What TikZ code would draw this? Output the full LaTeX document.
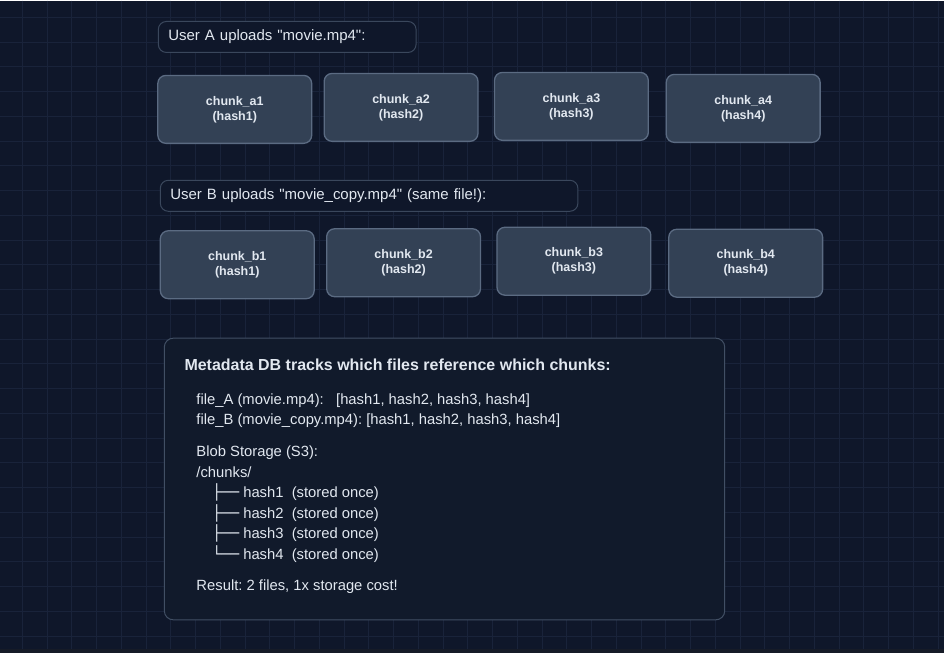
\documentclass[tikz,border=0pt]{standalone}
\usepackage{fontspec}
\setmainfont{Liberation Sans}[Ligatures=TeXOff]
\newfontfamily\treefont{DejaVu Sans}
\usepackage{tikz}
\frenchspacing

\definecolor{bgcol}{HTML}{0F172A}
\definecolor{gridcol}{HTML}{19233A}
\definecolor{stripcol}{HTML}{161B27}
\definecolor{chunkfill}{HTML}{334155}
\definecolor{chunkline}{HTML}{5B6B82}
\definecolor{headline}{HTML}{3A475C}
\definecolor{panelfill}{HTML}{111A2B}
\definecolor{panelline}{HTML}{414F64}
\definecolor{txtcol}{HTML}{E2E8F0}

\begin{document}
\begin{tikzpicture}[x=1pt,y=-1pt,
    chunk/.style={draw=chunkline, fill=chunkfill, line width=1.3pt, rounded corners=8pt,
        minimum width=154pt, minimum height=68pt, align=center, text=txtcol,
        font=\fontsize{12.5}{15}\selectfont\bfseries},
    header/.style={draw=headline, fill=bgcol, line width=1pt, rounded corners=8pt,
        minimum height=31pt, inner xsep=10pt, align=left, text=txtcol,
        font=\fontsize{15}{18}\selectfont},
    body/.style={anchor=base west, inner sep=0pt, text=txtcol, font=\fontsize{14.8}{18}\selectfont}]
        % background and grid
        \fill[bgcol] (0,0) rectangle (944,653);
        \foreach \i in {0,...,37}
            \draw[gridcol, line width=1pt] ({22+24.77*\i},0) -- ({22+24.77*\i},649);
        \foreach \j in {0,...,25}
            \draw[gridcol, line width=1pt] (0,{17+24.77*\j}) -- (944,{17+24.77*\j});
        \fill[stripcol] (0,649) rectangle (944,653);

        % user A
        \node[header, text width=238pt] (headA) at (287,36.5) {User A uploads "movie.mp4":};
        \node[chunk] (a1) at (234.5,109) {chunk\_a1\\(hash1)};
        \node[chunk] (a2) at (401,107) {chunk\_a2\\(hash2)};
        \node[chunk] (a3) at (571.5,106) {chunk\_a3\\(hash3)};
        \node[chunk] (a4) at (743.5,108) {chunk\_a4\\(hash4)};

        % user B
        \node[header, text width=398pt] (headB) at (369,195.5) {User B uploads "movie\_copy.mp4" (same file!):};
        \node[chunk] (b1) at (237,264.5) {chunk\_b1\\(hash1)};
        \node[chunk] (b2) at (403.5,262.5) {chunk\_b2\\(hash2)};
        \node[chunk] (b3) at (574,261) {chunk\_b3\\(hash3)};
        \node[chunk] (b4) at (746,263) {chunk\_b4\\(hash4)};

        % metadata panel
        \node[draw=panelline, fill=panelfill, line width=1pt, rounded corners=9pt,
            minimum width=561pt, minimum height=282pt] (panel) at (444.5,479) {};
        \node[body, font=\fontsize{16}{20}\selectfont\bfseries] (title) at (184,370)
            {Metadata DB tracks which files reference which chunks:};
        \node[body] (fileA) at (196,404) {file\_A (movie.mp4):\ \ \ [hash1, hash2, hash3, hash4]};
        \node[body] (fileB) at (196,424) {file\_B (movie\_copy.mp4): [hash1, hash2, hash3, hash4]};
        \node[body] (blob) at (196,456) {Blob Storage (S3):};
        \node[body] (dir) at (196,477) {/chunks/};
        \node[body] (h1) at (212,498) {{\treefont ├──} hash1\ \ (stored once)};
        \node[body] (h2) at (212,518.5) {{\treefont ├──} hash2\ \ (stored once)};
        \node[body] (h3) at (212,539) {{\treefont ├──} hash3\ \ (stored once)};
        \node[body] (h4) at (212,560) {{\treefont └──} hash4\ \ (stored once)};
        \node[body] (result) at (196,591) {Result: 2 files, 1x storage cost!};
\end{tikzpicture}
\end{document}
